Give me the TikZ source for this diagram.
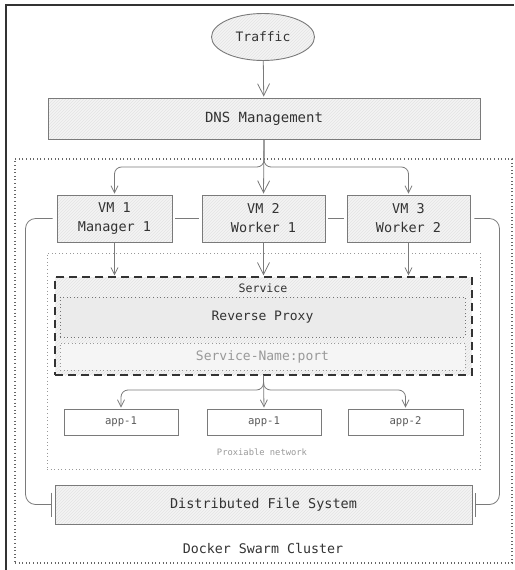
\documentclass[tikz,border=0pt]{standalone}
\usepackage{fontspec}
\setmonofont{DejaVu Sans Mono}
\usepackage{xcolor}
\usepackage{tikz}
\usetikzlibrary{positioning, arrows.meta, fit, backgrounds, calc, shapes.geometric, patterns}
\definecolor{lightgray}{HTML}{F4F4F4}
\definecolor{hatchgray}{HTML}{E4E4E4}
\definecolor{edgegray}{HTML}{7A7A7A}
\definecolor{inkgray}{HTML}{333333}
\definecolor{softgray}{HTML}{999999}

\tikzset{
  box/.style={draw=edgegray, line width=0.9pt, inner sep=0pt, align=center, text=inkgray},
  hatched/.style={preaction={fill=lightgray}, pattern=north east lines, pattern color=hatchgray},
  dotbox/.style={draw=softgray, line width=1pt, dash pattern=on 1pt off 2.6pt, inner sep=0pt},
  link/.style={draw=edgegray, line width=0.8pt},
  bigarrow/.style={link, -{Straight Barb[length=12pt,width=12pt]}, shorten >=1pt},
  smallarrow/.style={link, -{Straight Barb[length=7pt,width=7pt]}, shorten >=1pt},
  vmtext/.style={font=\ttfamily\fontsize{13.5}{19}\selectfont},
}

\begin{document}
\begin{tikzpicture}[x=1pt, y=-1pt, font=\ttfamily]
  \useasboundingbox (0,0) rectangle (514,570);
  % screenshot frame
  \draw[inkgray, line width=2pt] (6,570) -- (6,5) -- (514,5);

  % containers
  \node[dotbox, draw=black!60, line width=1.2pt, minimum width=497pt, minimum height=404pt] (cluster) at (263.5,361) {};
  \node[text=inkgray, font=\ttfamily\fontsize{13.3}{15}\selectfont] (clusterlbl) at (263,548) {Docker Swarm Cluster};
  \node[dotbox, minimum width=433pt, minimum height=216pt] (proxnet) at (263.5,361) {};
  \node[text=softgray, font=\ttfamily\fontsize{8.8}{10}\selectfont] (proxnetlbl) at (262,452) {Proxiable network};

  \node[ellipse, box, hatched, minimum width=103pt, minimum height=47pt,
        font=\ttfamily\fontsize{13}{15}\selectfont] (traffic) at (263,37) {Traffic};
  \node[box, hatched, minimum width=432pt, minimum height=41pt,
        font=\ttfamily\fontsize{14}{16}\selectfont] (dns) at (264,118.5) {DNS Management};

  \node[box, hatched, vmtext, minimum width=115pt, minimum height=47pt] (vm1) at (114.5,218.5) {VM 1\\Manager 1};
  \node[box, hatched, vmtext, minimum width=123pt, minimum height=47pt] (vm2) at (263.5,218.5) {VM 2\\Worker 1};
  \node[box, hatched, vmtext, minimum width=123pt, minimum height=47pt] (vm3) at (408.5,218.5) {VM 3\\Worker 2};

  \node[box, hatched, draw=inkgray, line width=1.3pt, dash pattern=on 8pt off 5pt,
        minimum width=417pt, minimum height=98pt] (service) at (263.5,326) {};
  \node[text=inkgray, font=\ttfamily\fontsize{11.6}{13}\selectfont] (servicelbl) at (263,288) {Service};
  \node[dotbox, draw=black!55, fill=black!8, text=inkgray, minimum width=405pt, minimum height=40pt,
        font=\ttfamily\fontsize{13}{15}\selectfont] (proxy) at (262.5,317) {Reverse Proxy};
  \node[dotbox, fill=black!4, text=softgray, minimum width=405pt, minimum height=27pt,
        font=\ttfamily\fontsize{13}{15}\selectfont] (svcport) at (262.5,356.5) {Service-Name:port};

  \node[box, fill=white, text=black!65, minimum width=114pt, minimum height=26pt,
        font=\ttfamily\fontsize{10.6}{12}\selectfont] (app1) at (121,422) {app-1};
  \node[box, fill=white, text=black!65, minimum width=114pt, minimum height=26pt,
        font=\ttfamily\fontsize{10.6}{12}\selectfont] (app2) at (264,422) {app-1};
  \node[box, fill=white, text=black!65, minimum width=115pt, minimum height=26pt,
        font=\ttfamily\fontsize{10.6}{12}\selectfont] (app3) at (405.5,422) {app-2};

  \node[box, hatched, minimum width=417pt, minimum height=39pt,
        font=\ttfamily\fontsize{13.5}{16}\selectfont] (dfs) at (263.5,504.5) {Distributed File System};

  % traffic flow
  \coordinate (split) at (263,167);
  \coordinate (appsplit) at (263,390);
  \draw[bigarrow] (traffic) -- (dns);
  \draw[smallarrow, rounded corners=7pt] (dns.south) |- (vm1.north |- split) -- (vm1.north);
  \draw[bigarrow] (dns.south) -- (vm2.north);
  \draw[smallarrow, rounded corners=7pt] (dns.south) |- (vm3.north |- split) -- (vm3.north);

  \draw[smallarrow] (vm1.south) -- (vm1.south |- service.north);
  \draw[bigarrow] (vm2.south) -- (vm2.south |- service.north);
  \draw[smallarrow] (vm3.south) -- (vm3.south |- service.north);

  \draw[smallarrow, rounded corners=7pt] (service.south) |- (app1.north |- appsplit) -- (app1.north);
  \draw[smallarrow] (service.south) -- (app2.north);
  \draw[smallarrow, rounded corners=7pt] (service.south) |- (app3.north |- appsplit) -- (app3.north);

  % swarm links
  \draw[link, shorten <=3pt, shorten >=3pt] (vm1) -- (vm2);
  \draw[link, shorten <=3pt, shorten >=3pt] (vm2) -- (vm3);
  \draw[link, rounded corners=10pt, -{Bar[width=24pt]}, shorten <=4pt, shorten >=3pt]
    (vm1.west) -- ++(-31,0) |- (dfs.west);
  \draw[link, rounded corners=10pt, -{Bar[width=24pt]}, shorten <=4pt, shorten >=3pt]
    (vm3.east) -- ++(29,0) |- (dfs.east);
\end{tikzpicture}
\end{document}
